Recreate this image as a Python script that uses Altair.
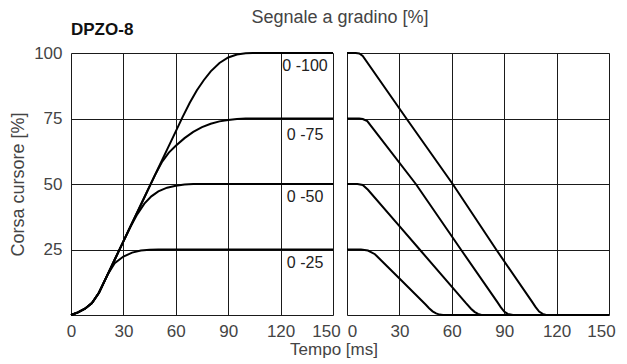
import altair as alt
import pandas as pd

# ---- Left panel: step up (Tempo [ms] vs Corsa cursore [%]) ----
up25_t = [0, 4, 8, 12, 16, 21, 25, 30, 35, 40, 45, 50, 150]
up25_v = [0, 1.0, 2.4, 4.6, 8.5, 15.5, 19.8, 22.3, 23.8, 24.6, 24.9, 25, 25]

up50_t = [0, 4, 8, 12, 16, 20, 25, 30, 34, 38, 42, 46, 50, 55, 60, 65, 70, 150]
up50_v = [0, 1.0, 2.4, 4.6, 8.5, 14.1, 21.1, 28.1, 33.7, 38.5, 42.5, 45.3, 47.2, 48.6, 49.3, 49.8, 50, 50]

up75_t = [0, 4, 8, 12, 16, 20, 25, 30, 35, 40, 44, 48, 52, 56, 60, 65, 70, 75, 80, 85, 90, 95, 100, 150]
up75_v = [0, 1.0, 2.4, 4.6, 8.5, 14.1, 21.1, 28.1, 35.1, 42.1, 47.7, 53.3, 58.3, 62.0, 64.6, 67.5, 69.9, 71.7, 73.0, 73.9, 74.4, 74.8, 75, 75]

up100_t = [0, 4, 8, 12, 16, 20, 25, 30, 35, 40, 45, 50, 55, 60, 64, 68, 72, 76, 80, 85, 90, 95, 100, 104, 150]
up100_v = [0, 1.0, 2.4, 4.6, 8.5, 14.1, 21.1, 28.1, 35.1, 42.1, 49.1, 56.1, 63.1, 70.1, 75.7, 81.0, 85.7, 89.6, 93.0, 96.2, 98.3, 99.4, 99.9, 100, 100]

# ---- Right panel: step down ----
dn100_t = [0, 5, 7, 9, 34, 60.5, 85.4, 106, 108, 110, 112, 114, 150]
dn100_v = [100, 100, 99.8, 98.9, 75, 50, 25, 5, 3, 1.3, 0.4, 0, 0]

dn75_t = [0, 7, 9, 11.6, 39.4, 65.2, 86, 88, 90, 92, 95, 150]
dn75_v = [75, 75, 74.8, 74, 50, 25, 5, 3, 1.3, 0.4, 0, 0]

dn50_t = [0, 6, 9, 12, 29.9, 41.6, 68, 71, 73, 75, 77, 150]
dn50_v = [50, 50, 49.6, 47.8, 34, 25, 4.6, 2.4, 1.2, 0.4, 0, 0]

dn25_t = [0, 8, 12, 16, 29.9, 45, 47, 49, 51, 53, 55, 150]
dn25_v = [25, 25, 24.6, 23.2, 14, 4, 2.6, 1.4, 0.6, 0.15, 0, 0]

step_labels = ["0 -100", "0 -75", "0 -50", "0 -25"]
label_t = [134, 134, 134, 134]
label_v = [95.0, 68.8, 44.9, 19.8]

x_ticks = [0, 30, 60, 90, 120, 150]
y_ticks = [0, 25, 50, 75, 100]


def frame(series):
    rows = []
    for name, ts, vs in series:
        for t, v in zip(ts, vs):
            rows.append({"serie": name, "t": t, "v": v})
    return pd.DataFrame(rows)


left_df = frame([("100", up100_t, up100_v), ("75", up75_t, up75_v),
                 ("50", up50_t, up50_v), ("25", up25_t, up25_v)])
right_df = frame([("100", dn100_t, dn100_v), ("75", dn75_t, dn75_v),
                  ("50", dn50_t, dn50_v), ("25", dn25_t, dn25_v)])
lab_df = pd.DataFrame({"t": label_t, "v": label_v, "txt": step_labels})

FONT = "Liberation Sans"
TXT = "#444444"
GRID = "#1a1a1a"
W, H = 262, 262

xscale = alt.Scale(domain=[0, 150], nice=False, zero=False)
yscale = alt.Scale(domain=[0, 100], nice=False)


def x_axis(offsets):
    return alt.Axis(values=x_ticks, title=None, grid=True, ticks=False, domain=False,
                    labelFontSize=17, labelPadding=8, labelColor=TXT, labelFont=FONT,
                    gridColor=GRID, gridWidth=1, gridOpacity=1, labelFlush=False,
                    labelOffset=offsets)


left_offsets = {"condition": {"test": "datum.value == 150", "value": -7}, "value": 0}
right_offsets = {"condition": [{"test": "datum.value == 0", "value": 5},
                               {"test": "datum.value == 150", "value": -8}],
                 "value": 0}

y_axis_left = alt.Axis(values=y_ticks, title="Corsa cursore [%]", grid=True, ticks=False,
                       domain=False, labelFontSize=17, labelPadding=9, labelColor=TXT,
                       labelFont=FONT, titleFont=FONT, titleFontSize=18,
                       titleFontWeight="normal", titleColor=TXT, titlePadding=6,
                       gridColor=GRID, gridWidth=1, gridOpacity=1,
                       labelExpr="datum.value == 0 ? '' : datum.label")
y_axis_right = alt.Axis(values=y_ticks, title=None, grid=True, ticks=False, labels=False,
                        domain=False, gridColor=GRID, gridWidth=1, gridOpacity=1)

left_lines = alt.Chart(left_df).mark_line(color="black", strokeWidth=2).encode(
    x=alt.X("t:Q", scale=xscale, axis=x_axis(left_offsets)),
    y=alt.Y("v:Q", scale=yscale, axis=y_axis_left),
    detail="serie:N",
)
left_labels = alt.Chart(lab_df).mark_text(fontSize=16, font=FONT, color="#222222",
                                          align="center", baseline="middle").encode(
    x=alt.X("t:Q", scale=xscale), y=alt.Y("v:Q", scale=yscale), text="txt:N")

one = pd.DataFrame({"k": [0]})
title_dpzo = alt.Chart(one).mark_text(text="DPZO-8", fontSize=17, fontWeight="bold",
                                      font=FONT, color="#111111", align="left",
                                      baseline="middle").encode(
    x=alt.value(0), y=alt.value(-23))
title_step = alt.Chart(one).mark_text(text="Segnale a gradino [%]", fontSize=18,
                                      font=FONT, color=TXT, align="center",
                                      baseline="middle").encode(
    x=alt.value(269), y=alt.value(-35))
title_time = alt.Chart(one).mark_text(text="Tempo [ms]", fontSize=17, font=FONT,
                                      color=TXT, align="center",
                                      baseline="middle").encode(
    x=alt.value(263), y=alt.value(297))

left = alt.layer(left_lines, left_labels, title_dpzo, title_step, title_time).properties(
    width=W, height=H)

right = alt.Chart(right_df).mark_line(color="black", strokeWidth=2).encode(
    x=alt.X("t:Q", scale=xscale, axis=x_axis(right_offsets)),
    y=alt.Y("v:Q", scale=yscale, axis=y_axis_right),
    detail="serie:N",
).properties(width=W, height=H)

chart = alt.hconcat(left, right, spacing=14, bounds="flush").properties(
    padding={"left": 1, "top": 0, "right": 0, "bottom": 0}
).configure_view(stroke="black", strokeWidth=1.5).configure(background="white")

chart.save("out.html", embed_options={"renderer": "svg", "actions": False})
